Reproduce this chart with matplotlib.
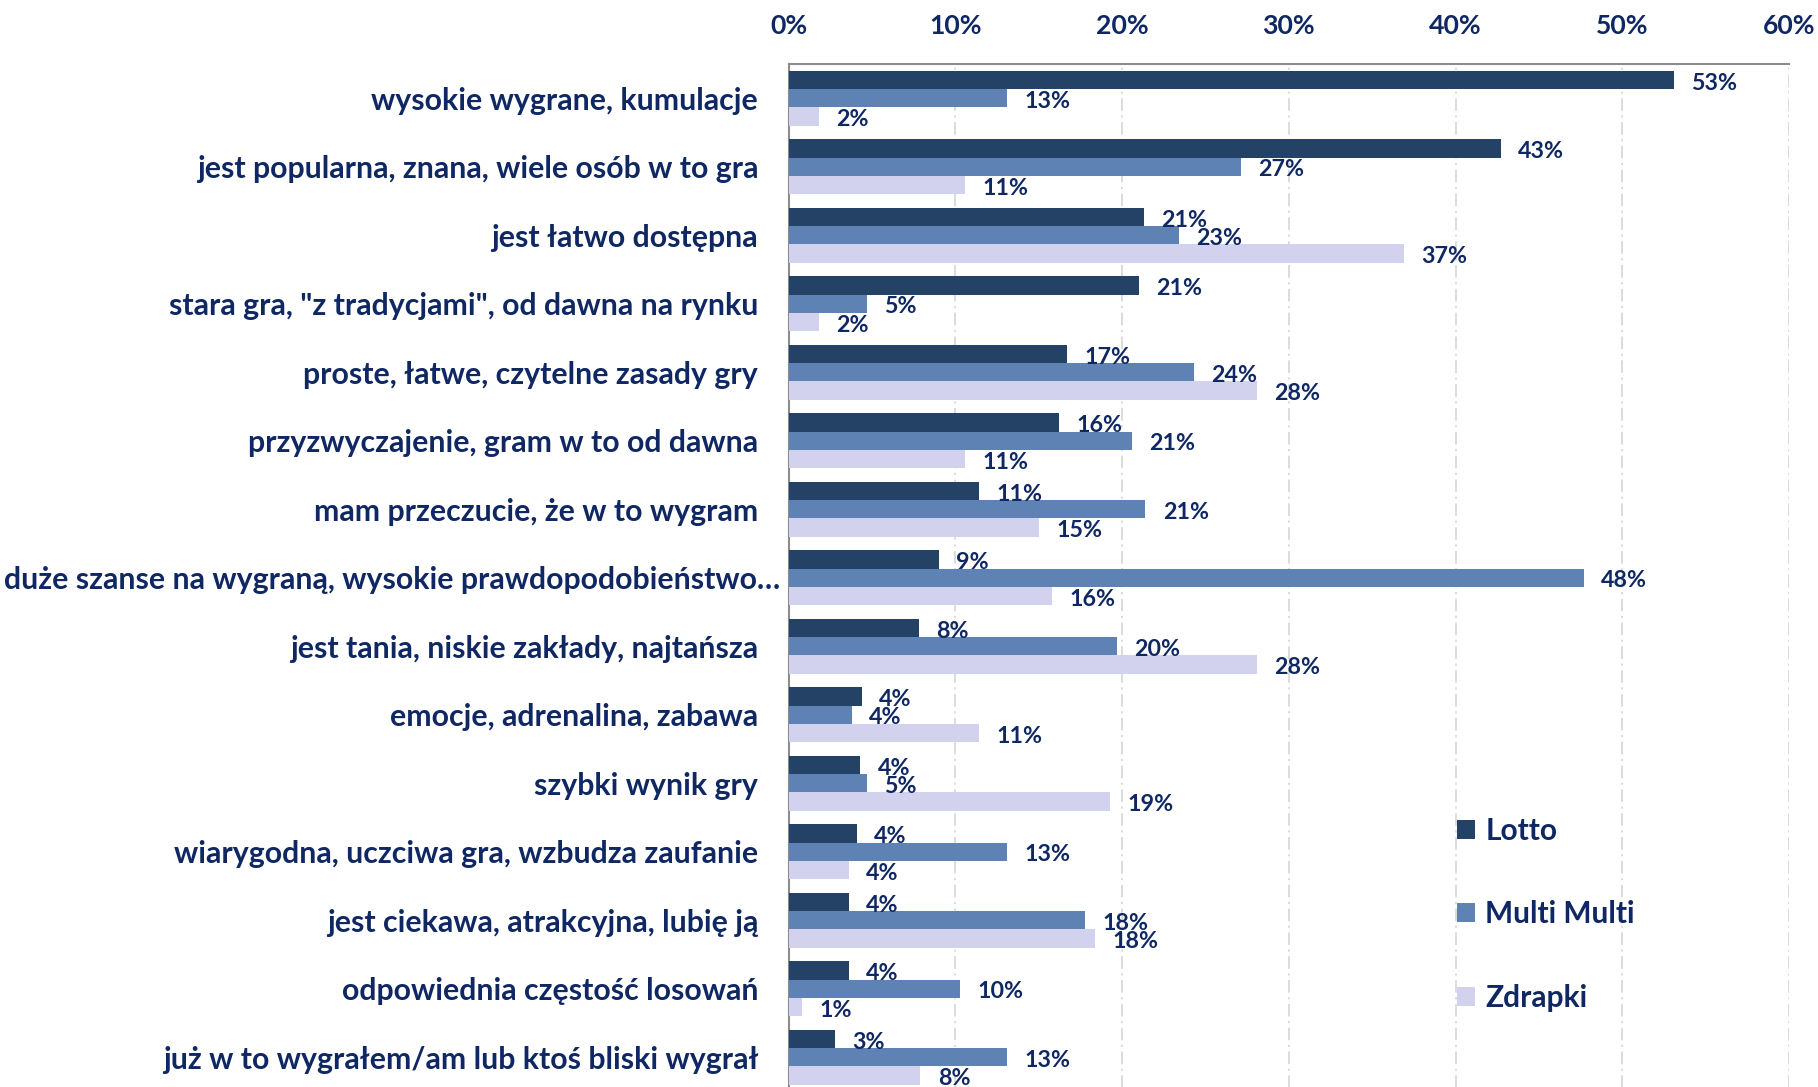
import matplotlib
matplotlib.use("Agg")
import matplotlib.pyplot as plt
import numpy as np
from matplotlib.transforms import ScaledTranslation

plt.rcParams['font.family'] = ['Lato', 'DejaVu Sans']

categories = [
    "wysokie wygrane, kumulacje",
    "jest popularna, znana, wiele osób w to gra",
    "jest łatwo dostępna",
    "stara gra, \"z tradycjami\", od dawna na rynku",
    "proste, łatwe, czytelne zasady gry",
    "przyzwyczajenie, gram w to od dawna",
    "mam przeczucie, że w to wygram",
    "duże szanse na wygraną, wysokie prawdopodobieństwo…",
    "jest tania, niskie zakłady, najtańsza",
    "emocje, adrenalina, zabawa",
    "szybki wynik gry",
    "wiarygodna, uczciwa gra, wzbudza zaufanie",
    "jest ciekawa, atrakcyjna, lubię ją",
    "odpowiednia częstość losowań",
    "już w to wygrałem/am lub ktoś bliski wygrał",
]
series_names = ["Lotto", "Multi Multi", "Zdrapki"]
lotto = [53.1, 42.7, 21.3, 21.0, 16.7, 16.2, 11.4, 9.0, 7.8, 4.4, 4.3, 4.1, 3.6, 3.6, 2.8]
multi = [13.1, 27.1, 23.4, 4.7, 24.3, 20.6, 21.4, 47.7, 19.7, 3.8, 4.7, 13.1, 17.8, 10.3, 13.1]
zdrapki = [1.8, 10.6, 36.9, 1.8, 28.1, 10.6, 15.0, 15.8, 28.1, 11.4, 19.3, 3.6, 18.4, 0.8, 7.9]
x_ticks = [0, 10, 20, 30, 40, 50, 60]
x_tick_labels = ["0%", "10%", "20%", "30%", "40%", "50%", "60%"]

colors = ["#244266", "#5E82B4", "#D2D2EE"]
navy = "#0F2763"
grid_col = "#D9D9D9"
spine_col = "#8C8C8C"

W_PX, H_PX = 1818, 1087
fig = plt.figure(figsize=(W_PX / 100, H_PX / 100), dpi=100)
renderer = fig.canvas.get_renderer()


def fit(text, target_px, base=20.0):
    t = fig.text(0, 0, text, fontsize=base, fontweight='bold')
    w = t.get_window_extent(renderer).width
    t.remove()
    return base * target_px / w


cat_fs = fit("jest popularna, znana, wiele osób w to gra", 561)
tick_fs = fit("10%", 53)
val_fs = fit("19%", 46)
leg_fs = fit("Multi Multi", 150)

ax_left = 788.7 / W_PX
ax_width = (1789 - 788.7) / W_PX
ax_top = 1 - 64 / H_PX
ax_height = 1027.5 / H_PX
ax = fig.add_axes([ax_left, ax_top - ax_height, ax_width, ax_height])

n = len(categories)
h = 0.8 / 3
ypos = np.arange(n)
for k, (vals, col, name) in enumerate(zip([lotto, multi, zdrapki], colors, series_names)):
    yy = ypos + (k - 1) * h
    ax.barh(yy, vals, height=h, color=col, label=name, zorder=3)
    for v, y in zip(vals, yy):
        ax.annotate(f"{v:.0f}%", xy=(v, y), xytext=(12.5, -0.8), textcoords='offset points',
                    ha='left', va='center_baseline', fontsize=val_fs, fontweight='bold',
                    color=navy, zorder=4)

ax.set_xlim(0, 60)
ax.set_ylim(n - 0.5, -0.5)

ax.xaxis.tick_top()
ax.set_xticks(x_ticks)
ax.set_xticklabels(x_tick_labels, fontsize=tick_fs, fontweight='bold', color=navy)
ax.tick_params(axis='x', length=0, pad=19)

ax.set_yticks(ypos)
ax.set_yticklabels(categories, fontsize=cat_fs, fontweight='bold', color=navy)
ax.tick_params(axis='y', length=0, pad=22)
long_lbl = ax.get_yticklabels()[7]
long_lbl.set_transform(long_lbl.get_transform() + ScaledTranslation(22 / 100, 0, fig.dpi_scale_trans))

ax.xaxis.grid(True, color=grid_col, linestyle=(0, (7, 2.5, 1.2, 2.5)), linewidth=1.3, zorder=0)
ax.yaxis.grid(False)
ax.set_axisbelow(True)

for s in ['right', 'bottom']:
    ax.spines[s].set_visible(False)
for s in ['left', 'top']:
    ax.spines[s].set_color(spine_col)
    ax.spines[s].set_linewidth(1.5)

ax.legend(loc='upper left', bbox_to_anchor=(1457 / W_PX, 1 - 817 / H_PX), bbox_transform=fig.transFigure,
          frameon=False, prop={'weight': 'bold', 'size': leg_fs}, labelcolor=navy,
          handlelength=0.6, handleheight=0.6, handletextpad=0.35, labelspacing=1.85,
          borderpad=0, borderaxespad=0)

fig.savefig("out.png", dpi=100, facecolor='white')
